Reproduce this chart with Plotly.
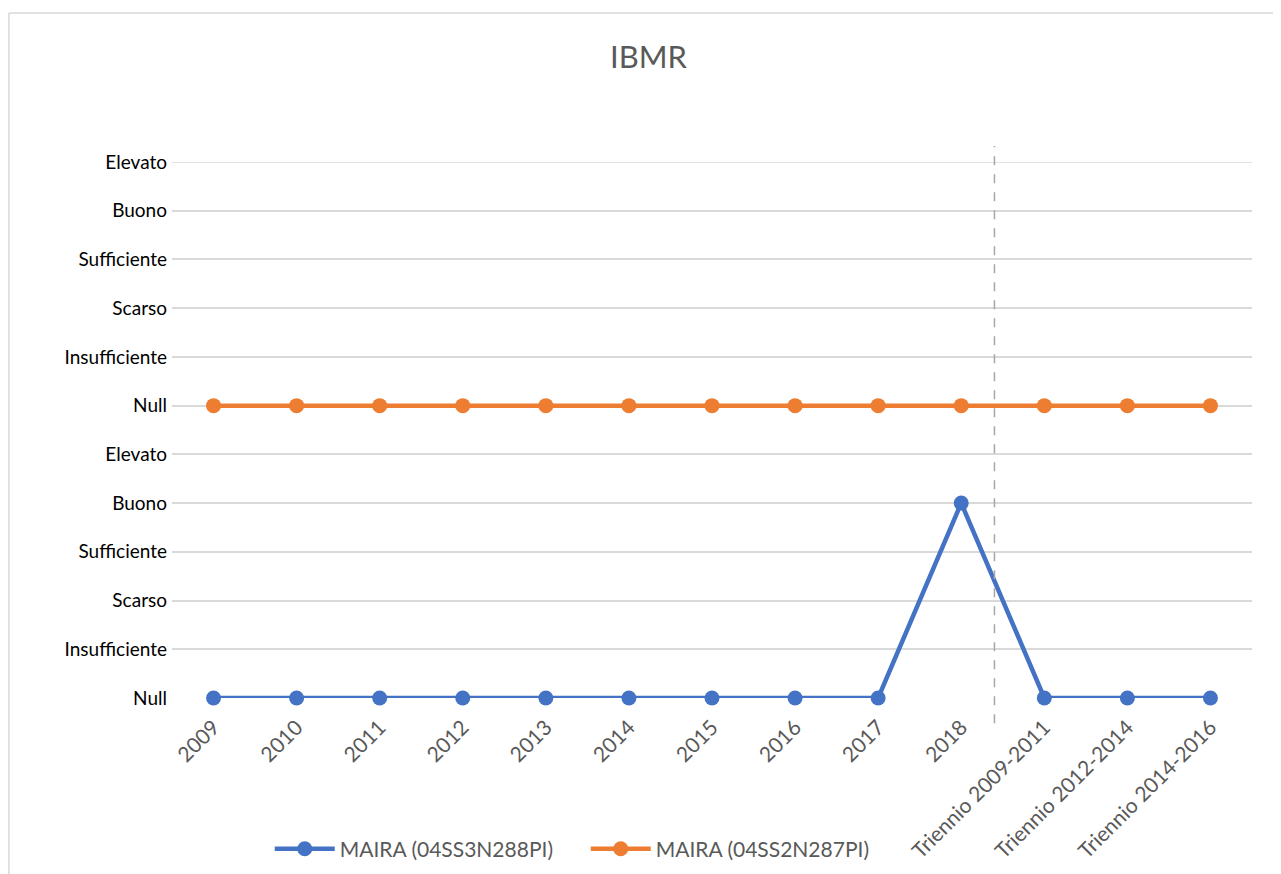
import plotly.graph_objects as go

categories = ["2009", "2010", "2011", "2012", "2013", "2014", "2015", "2016", "2017", "2018",
              "Triennio 2009-2011", "Triennio 2012-2014", "Triennio 2014-2016"]
blue_name = "MAIRA (04SS3N288PI)"
orange_name = "MAIRA (04SS2N287PI)"
blue_values = [0, 0, 0, 0, 0, 0, 0, 0, 0, 4, 0, 0, 0]
orange_values = [6, 6, 6, 6, 6, 6, 6, 6, 6, 6, 6, 6, 6]
y_tickvals = list(range(12))
y_ticktext = ["Null", "Insufficiente", "Scarso", "Sufficiente", "Buono", "Elevato",
              "Null", "Insufficiente", "Scarso", "Sufficiente", "Buono", "Elevato"]

FONT = "Lato, 'Open Sans', sans-serif"
BLUE = "#4472C4"
ORANGE = "#ED7D31"

fig = go.Figure()
fig.add_trace(go.Scatter(x=categories, y=blue_values, name=blue_name, mode="lines+markers",
                         line=dict(color=BLUE, width=4.5), marker=dict(size=15, color=BLUE),
                         cliponaxis=False))
fig.add_trace(go.Scatter(x=categories, y=orange_values, name=orange_name, mode="lines+markers",
                         line=dict(color=ORANGE, width=4.5), marker=dict(size=15, color=ORANGE),
                         cliponaxis=False))

# top gridline (plotly omits the grid line lying on the plot edge)
fig.add_shape(type="line", xref="paper", yref="y", x0=0, x1=1, y0=y_tickvals[-1], y1=y_tickvals[-1],
              line=dict(color="#D9D9D9", width=1.5), layer="below")
# dashed separator between yearly and triennial values
fig.add_shape(type="line", xref="x", yref="paper", x0=9.4, x1=9.4, y0=-0.047, y1=1.03,
              line=dict(color="#A6A6A6", width=1.5, dash="dash"))
# chart border (top and left visible)
fig.add_shape(type="line", xref="paper", yref="paper", x0=-0.151, x1=1.04, y0=1.278, y1=1.278,
              line=dict(color="#D9D9D9", width=1.5))
fig.add_shape(type="line", xref="paper", yref="paper", x0=-0.151, x1=-0.151, y0=1.278, y1=-0.36,
              line=dict(color="#D9D9D9", width=1.5))

fig.update_layout(
    width=1281, height=874,
    margin=dict(l=164, r=37, t=154, b=184),
    paper_bgcolor="white", plot_bgcolor="white",
    font=dict(family=FONT, color="#000000"),
    title=dict(text="IBMR", x=0.5, xanchor="center", y=0.944, yanchor="middle",
               font=dict(size=31, color="#595959", family=FONT)),
    showlegend=True,
    legend=dict(orientation="h", x=0.0905, xanchor="left", y=-0.282, yanchor="middle",
                font=dict(size=21, color="#595959", family=FONT), itemwidth=60,
                entrywidth=241, entrywidthmode="pixels", traceorder="normal",
                bgcolor="rgba(0,0,0,0)"),
    xaxis=dict(type="category", tickangle=-45, showgrid=False, showline=False, zeroline=False,
               tickfont=dict(size=21, color="#595959", family=FONT), ticks="",
               range=[-0.5, 12.5], ticklabelstandoff=12, automargin=False),
    yaxis=dict(range=[0, 11], tickvals=y_tickvals, ticktext=y_ticktext, showgrid=True,
               gridcolor="#D9D9D9", gridwidth=1.5, zeroline=False, showline=False,
               tickfont=dict(size=19, color="#000000", family=FONT), ticks="", ticklabelstandoff=4,
               automargin=False),
)

fig.write_html("out.html")
